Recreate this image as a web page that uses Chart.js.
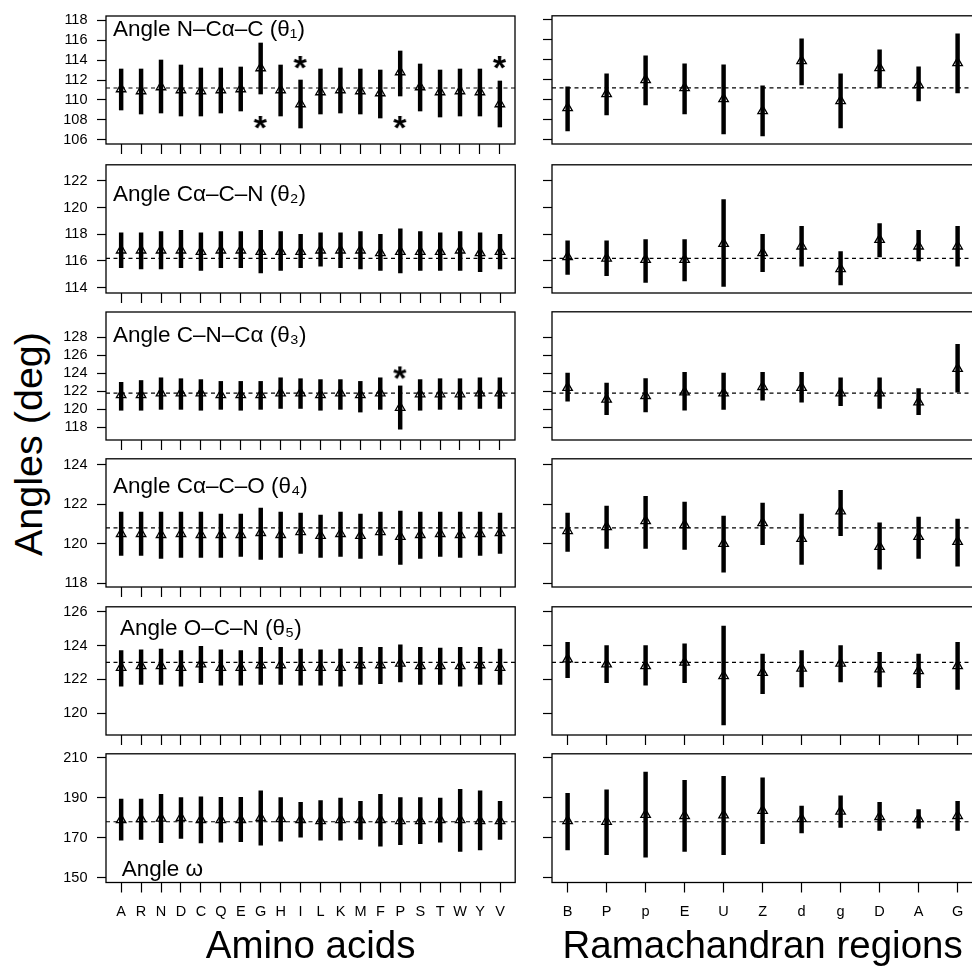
<!DOCTYPE html>
<html>
<head>
<meta charset="utf-8">
<script src="https://cdn.jsdelivr.net/npm/chart.js@4.4.1/dist/chart.umd.min.js"></script>
<style>
  html, body { margin: 0; padding: 0; background: #fff; overflow: hidden; }
  body { width: 972px; height: 968px; position: relative; }
  canvas { position: absolute; }
  #ytitle {
    position: absolute; left: 29px; top: 444px;
    font: 39.5px "Liberation Sans", Arial, sans-serif; line-height: 1;
    white-space: nowrap; transform: translate(-50%, -50%) rotate(-90deg);
  }
</style>
</head>
<body>
<div id="ytitle">Angles (deg)</div>
<script>
const aminoAcids = ['A', 'R', 'N', 'D', 'C', 'Q', 'E', 'G', 'H', 'I', 'L', 'K', 'M', 'F', 'P', 'S', 'T', 'W', 'Y', 'V'];
const regions = ['B', 'P', 'p', 'E', 'U', 'Z', 'd', 'g', 'D', 'A', 'G'];

// theta1 N-CA-C
const theta1AaMean = [111.1, 110.9, 111.3, 111.0, 110.9, 111.0, 111.1, 113.2, 111.0, 109.6, 110.8, 111.0, 110.9, 110.7, 112.8, 111.3, 110.8, 110.9, 110.8, 109.6];
const theta1AaLow = [109.0, 108.6, 108.7, 108.4, 108.4, 108.7, 108.9, 110.6, 108.4, 107.2, 108.6, 108.7, 108.6, 108.2, 110.4, 108.9, 108.3, 108.4, 108.4, 107.3];
const theta1AaHigh = [113.1, 113.1, 114.0, 113.5, 113.2, 113.2, 113.3, 115.7, 113.5, 112.0, 113.1, 113.2, 113.1, 113.0, 114.9, 113.6, 113.0, 113.1, 113.1, 111.9];
const theta1RgMean = [109.2, 110.6, 112.0, 111.2, 110.1, 108.9, 113.9, 109.9, 113.2, 111.5, 113.7];
const theta1RgLow = [106.9, 108.5, 109.5, 108.6, 106.6, 106.4, 111.5, 107.2, 111.2, 109.9, 110.7];
const theta1RgHigh = [111.3, 112.6, 114.4, 113.6, 113.5, 111.4, 116.1, 112.6, 115.0, 113.3, 116.6];
const theta1StarCats = ['G', 'I', 'P', 'V'];
const theta1StarY = [107.8, 113.8, 107.8, 113.8];

// theta2 CA-C-N
const theta2AaMean = [116.8, 116.8, 116.8, 116.8, 116.7, 116.8, 116.8, 116.7, 116.7, 116.7, 116.8, 116.8, 116.8, 116.6, 116.7, 116.7, 116.7, 116.8, 116.6, 116.7];
const theta2AaLow = [115.5, 115.4, 115.4, 115.5, 115.3, 115.5, 115.5, 115.1, 115.3, 115.5, 115.6, 115.5, 115.4, 115.3, 115.1, 115.3, 115.3, 115.3, 115.2, 115.4];
const theta2AaHigh = [118.1, 118.1, 118.2, 118.3, 118.1, 118.2, 118.2, 118.3, 118.2, 118.0, 118.1, 118.1, 118.2, 118.0, 118.4, 118.2, 118.1, 118.2, 118.1, 118.0];
const theta2RgMean = [116.3, 116.2, 116.1, 116.1, 117.3, 116.6, 117.1, 115.4, 117.6, 117.1, 117.1];
const theta2RgLow = [115.0, 114.9, 114.4, 114.5, 114.1, 115.2, 115.6, 114.2, 116.3, 116.0, 115.6];
const theta2RgHigh = [117.5, 117.5, 117.6, 117.6, 120.6, 118.0, 118.6, 116.7, 118.8, 118.3, 118.6];

// theta3 C-N-CA
const theta3AaMean = [121.6, 121.6, 121.8, 121.8, 121.8, 121.6, 121.6, 121.6, 121.8, 121.8, 121.6, 121.8, 121.6, 121.8, 120.2, 121.7, 121.7, 121.7, 121.8, 121.8];
const theta3AaLow = [119.9, 119.9, 120.0, 120.0, 119.9, 120.0, 119.9, 120.0, 120.1, 120.1, 119.9, 120.0, 119.7, 120.0, 117.8, 119.9, 120.0, 120.0, 120.1, 120.1];
const theta3AaHigh = [123.0, 123.2, 123.5, 123.4, 123.3, 123.1, 123.1, 123.1, 123.5, 123.4, 123.3, 123.3, 123.1, 123.5, 122.6, 123.3, 123.4, 123.4, 123.5, 123.5];
const theta3RgMean = [122.4, 121.1, 121.5, 121.9, 121.8, 122.5, 122.4, 121.8, 121.8, 120.8, 124.5];
const theta3RgLow = [120.9, 119.4, 119.7, 119.9, 120.0, 121.0, 120.8, 120.4, 120.1, 119.4, 121.9];
const theta3RgHigh = [124.0, 122.9, 123.4, 124.1, 124.0, 124.1, 124.1, 123.5, 123.5, 122.3, 127.2];
const theta3StarCats = ['P'];
const theta3StarY = [124.1];

// theta4 CA-C-O
const theta4AaMean = [120.5, 120.5, 120.45, 120.5, 120.45, 120.45, 120.45, 120.55, 120.45, 120.6, 120.4, 120.5, 120.4, 120.6, 120.35, 120.45, 120.5, 120.45, 120.5, 120.55];
const theta4AaLow = [119.4, 119.4, 119.25, 119.3, 119.3, 119.3, 119.35, 119.2, 119.3, 119.5, 119.3, 119.35, 119.25, 119.4, 118.95, 119.25, 119.35, 119.3, 119.4, 119.5];
const theta4AaHigh = [121.6, 121.6, 121.6, 121.6, 121.6, 121.5, 121.5, 121.8, 121.6, 121.55, 121.45, 121.6, 121.5, 121.6, 121.65, 121.6, 121.6, 121.6, 121.6, 121.55];
const theta4RgMean = [120.65, 120.85, 121.15, 120.95, 120.0, 121.05, 120.25, 121.65, 119.85, 120.35, 120.1];
const theta4RgLow = [119.6, 119.75, 119.75, 119.7, 118.55, 119.95, 118.95, 120.4, 118.7, 119.25, 118.85];
const theta4RgHigh = [121.55, 121.9, 122.4, 122.1, 121.4, 122.05, 121.5, 122.7, 121.05, 121.35, 121.25];

// theta5 O-C-N
const theta5AaMean = [122.7, 122.8, 122.8, 122.7, 122.9, 122.7, 122.7, 122.85, 122.85, 122.7, 122.7, 122.7, 122.85, 122.85, 122.95, 122.8, 122.8, 122.8, 122.85, 122.7];
const theta5AaLow = [121.6, 121.7, 121.7, 121.6, 121.8, 121.65, 121.65, 121.7, 121.7, 121.65, 121.65, 121.6, 121.7, 121.75, 121.85, 121.7, 121.7, 121.6, 121.7, 121.7];
const theta5AaHigh = [123.7, 123.75, 123.8, 123.7, 123.95, 123.75, 123.7, 123.9, 123.9, 123.8, 123.75, 123.8, 123.9, 123.9, 124.05, 123.9, 123.85, 123.9, 123.9, 123.8];
const theta5RgMean = [123.2, 122.9, 122.8, 123.0, 122.2, 122.4, 122.65, 122.95, 122.6, 122.5, 122.8];
const theta5RgLow = [122.1, 121.8, 121.65, 121.8, 119.3, 121.15, 121.55, 121.85, 121.55, 121.5, 121.4];
const theta5RgHigh = [124.2, 124.0, 124.0, 124.1, 125.15, 123.5, 123.7, 124.0, 123.6, 123.5, 124.2];

// omega
const omegaAaMean = [178.9, 179.4, 179.7, 180.0, 178.9, 178.9, 178.9, 180.0, 179.4, 178.9, 178.4, 178.9, 178.9, 178.9, 178.4, 178.4, 178.9, 178.9, 178.4, 178.4];
const omegaAaLow = [168.7, 169.1, 167.5, 169.6, 167.4, 167.8, 168.0, 166.2, 168.3, 170.3, 168.8, 168.7, 169.1, 165.7, 166.5, 167.0, 167.8, 163.1, 163.8, 169.1];
const omegaAaHigh = [189.4, 189.4, 191.7, 190.1, 190.5, 190.2, 190.2, 193.5, 190.1, 187.8, 188.6, 189.9, 188.3, 191.7, 190.1, 190.1, 189.9, 194.3, 193.5, 188.3];
const omegaRgMean = [178.4, 178.1, 181.6, 181.0, 181.3, 183.6, 179.4, 183.2, 180.5, 179.4, 181.0];
const omegaRgLow = [163.8, 161.5, 160.2, 163.1, 161.5, 167.0, 172.4, 175.1, 173.7, 174.8, 173.7];
const omegaRgHigh = [192.2, 194.0, 202.9, 198.8, 200.8, 200.0, 185.8, 191.0, 187.8, 184.1, 188.3];

const refLines = [111.2, 116.2, 121.8, 120.8, 123.0, 178.0];
const theta1Ticks = [106, 108, 110, 112, 114, 116, 118];
const theta2Ticks = [114, 116, 118, 120, 122];
const theta3Ticks = [118, 120, 122, 124, 126, 128];
const theta4Ticks = [118, 120, 122, 124];
const theta5Ticks = [120, 122, 124, 126];
const omegaTicks = [150, 170, 190, 210];
const yLimits = [[105.6, 118.4], [113.6, 123.2], [116.6, 130.8], [117.8, 124.3], [118.7, 126.3], [147.5, 212.1]];

const rows = [
  { title: 'Angle N\u2013C\u03b1\u2013C (\u03b8\u2081)', aa: [theta1AaMean, theta1AaLow, theta1AaHigh], rg: [theta1RgMean, theta1RgLow, theta1RgHigh], ticks: theta1Ticks, stars: [theta1StarCats, theta1StarY] },
  { title: 'Angle C\u03b1\u2013C\u2013N (\u03b8\u2082)', aa: [theta2AaMean, theta2AaLow, theta2AaHigh], rg: [theta2RgMean, theta2RgLow, theta2RgHigh], ticks: theta2Ticks },
  { title: 'Angle C\u2013N\u2013C\u03b1 (\u03b8\u2083)', aa: [theta3AaMean, theta3AaLow, theta3AaHigh], rg: [theta3RgMean, theta3RgLow, theta3RgHigh], ticks: theta3Ticks, stars: [theta3StarCats, theta3StarY] },
  { title: 'Angle C\u03b1\u2013C\u2013O (\u03b8\u2084)', aa: [theta4AaMean, theta4AaLow, theta4AaHigh], rg: [theta4RgMean, theta4RgLow, theta4RgHigh], ticks: theta4Ticks },
  { title: 'Angle O\u2013C\u2013N (\u03b8\u2085)', aa: [theta5AaMean, theta5AaLow, theta5AaHigh], rg: [theta5RgMean, theta5RgLow, theta5RgHigh], ticks: theta5Ticks },
  { title: 'Angle \u03c9', aa: [omegaAaMean, omegaAaLow, omegaAaHigh], rg: [omegaRgMean, omegaRgLow, omegaRgHigh], ticks: omegaTicks }
];

// layout (pixels)
const boxTop = [12, 161, 307.5, 454.5, 602.5, 750];
const boxH = 132.5;
const PAD = 3;
const titleOffsets = [[7, 13.5], [7, 30], [7, 24], [7, 28], [14, 22], [15.7, 116]];

Chart.defaults.font.family = '"Liberation Sans", Arial, sans-serif';
Chart.defaults.color = '#000';

function starImage() {
  const c = document.createElement('canvas');
  c.width = 24; c.height = 24;
  const g = c.getContext('2d');
  g.font = 'bold 34px "Liberation Sans", Arial, sans-serif';
  const m = g.measureText('*');
  g.fillStyle = '#000';
  g.fillText('*', 12 - (m.actualBoundingBoxRight - m.actualBoundingBoxLeft) / 2,
    12 + (m.actualBoundingBoxAscent - m.actualBoundingBoxDescent) / 2);
  return c;
}
const star = starImage();

const boxPlugin = {
  id: 'box',
  afterDatasetsDraw(chart) {
    const a = chart.chartArea, ctx = chart.ctx;
    ctx.save();
    ctx.strokeStyle = '#000';
    ctx.lineWidth = 1.3;
    ctx.strokeRect(a.left, a.top, a.right - a.left, a.bottom - a.top);
    const t = chart.options.plugins.box;
    if (t && t.text) {
      ctx.fillStyle = '#000';
      ctx.font = '22.5px "Liberation Sans", Arial, sans-serif';
      ctx.textBaseline = 'middle';
      ctx.fillText(t.text, a.left + t.dx, a.top + t.dy);
    }
    ctx.restore();
  }
};

function makePanel(r, side) {
  const row = rows[r];
  const left = side === 'left';
  const cats = left ? aminoAcids : regions;
  const [mean, low, high] = left ? row.aa : row.rg;
  const bottom = r === rows.length - 1;
  const xh = bottom ? 968 - (boxTop[r] + boxH) : 14;
  const showXTicks = left || r >= 4;
  const xmin = 1 - (cats.length - 1) * 0.04;
  const xmax = cats.length + (cats.length - 1) * 0.04;

  const cv = document.createElement('canvas');
  cv.width = left ? 522 : 450;
  cv.height = PAD + boxH + xh;
  cv.style.left = (left ? 0 : 530) + 'px';
  cv.style.top = (boxTop[r] - PAD) + 'px';
  document.body.appendChild(cv);

  const datasets = [
    {
      type: 'scatter',
      data: mean.map((m, i) => ({ x: i + 1, y: m })),
      pointStyle: 'triangle',
      pointRadius: 5.5,
      pointBorderWidth: 1.3,
      pointBorderColor: '#000',
      pointBackgroundColor: 'rgba(0,0,0,0)'
    },
    {
      type: 'bar',
      data: low.map((l, i) => ({ x: i + 1, y: [l, high[i]] })),
      backgroundColor: '#000',
      barThickness: 3.8,
      borderWidth: 0
    },
    {
      type: 'line',
      data: [{ x: xmin, y: refLines[r] }, { x: xmax, y: refLines[r] }],
      borderColor: '#000',
      borderWidth: 1.2,
      borderDash: [4, 3.5],
      pointRadius: 0
    }
  ];
  if (left && row.stars) {
    const [sc, sy] = row.stars;
    datasets.splice(1, 0, {
      type: 'scatter',
      data: sc.map((c, i) => ({ x: cats.indexOf(c) + 1, y: sy[i] })),
      pointStyle: star,
      pointRadius: 6
    });
  }

  new Chart(cv, {
    type: 'bar',
    data: { datasets },
    plugins: [boxPlugin],
    options: {
      responsive: false,
      animation: false,
      devicePixelRatio: 1,
      layout: { padding: { top: PAD, right: left ? 2 : 0, bottom: 0, left: 0 } },
      plugins: {
        legend: { display: false },
        tooltip: { enabled: false },
        box: left ? { text: row.title, dx: titleOffsets[r][0], dy: titleOffsets[r][1] } : {}
      },
      scales: {
        x: {
          type: 'linear',
          min: xmin,
          max: xmax,
          offset: false,
          afterBuildTicks: s => { s.ticks = cats.map((c, i) => ({ value: i + 1 })); },
          afterFit: s => { s.height = xh; s.paddingLeft = 0; s.paddingRight = 0; s.paddingTop = 0; s.paddingBottom = 0; },
          grid: { display: showXTicks, drawOnChartArea: false, drawTicks: true, tickLength: 10, tickColor: '#000', tickWidth: 1.2, offset: false },
          border: { display: false },
          ticks: {
            display: bottom,
            autoSkip: false,
            maxRotation: 0,
            minRotation: 0,
            padding: 11,
            font: { size: 14.5 },
            callback: v => cats[Math.round(v) - 1]
          },
          title: {
            display: bottom,
            text: left ? 'Amino acids' : 'Ramachandran regions',
            font: { size: 38.5, lineHeight: 1 },
            padding: { top: 0, bottom: 1 }
          }
        },
        y: {
          type: 'linear',
          min: yLimits[r][0],
          max: yLimits[r][1],
          afterBuildTicks: s => { s.ticks = row.ticks.map(v => ({ value: v })); },
          afterFit: s => { s.width = left ? 106 : 22; s.paddingLeft = 0; s.paddingRight = 0; s.paddingTop = 0; s.paddingBottom = 0; },
          grid: { drawOnChartArea: false, drawTicks: true, tickLength: 9, tickColor: '#000', tickWidth: 1.2 },
          border: { display: false },
          ticks: { display: left, padding: 9.5, font: { size: 14.5 } }
        }
      }
    }
  });
}

for (let r = 0; r < rows.length; r++) {
  makePanel(r, 'left');
  makePanel(r, 'right');
}
</script>
</body>
</html>
